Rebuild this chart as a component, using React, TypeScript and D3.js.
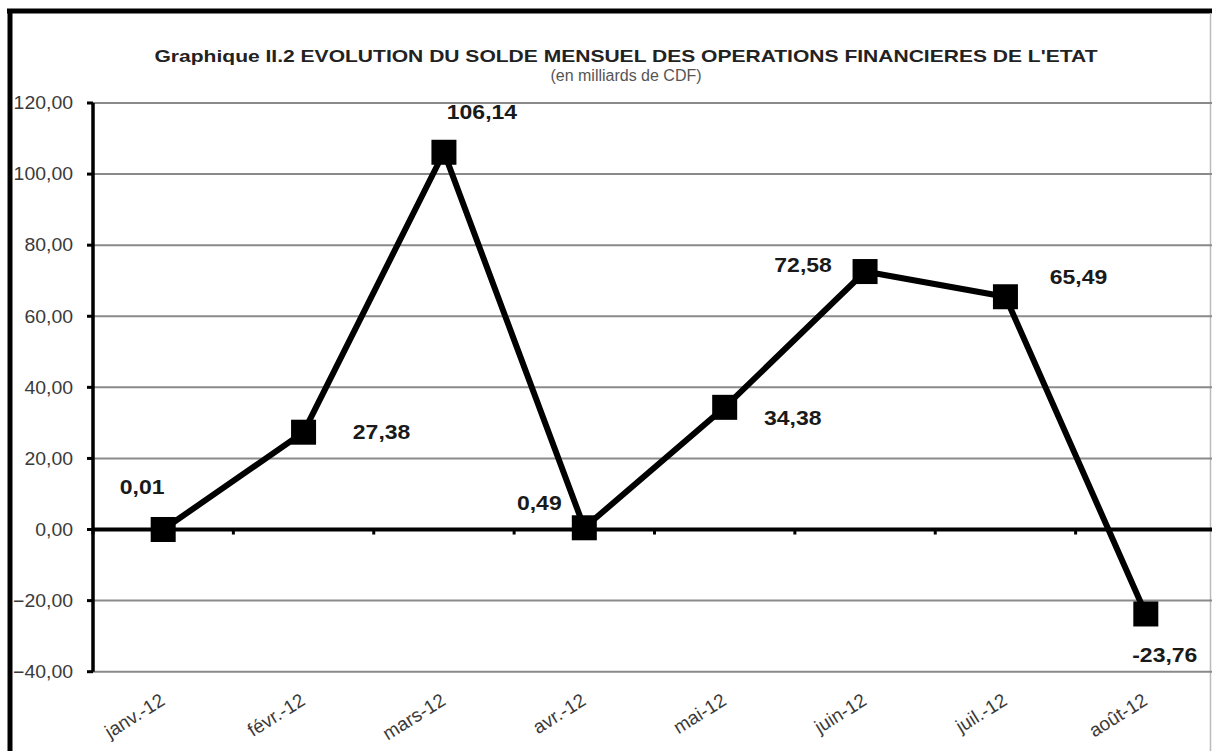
import React from "react";
import * as d3 from "d3";

const categories = ["janv.-12", "févr.-12", "mars-12", "avr.-12", "mai-12", "juin-12", "juil.-12", "août-12"];
const values = [0.01, 27.38, 106.14, 0.49, 34.38, 72.58, 65.49, -23.76];
const valueLabels = ["0,01", "27,38", "106,14", "0,49", "34,38", "72,58", "65,49", "-23,76"];
const yTicks = [-40, -20, 0, 20, 40, 60, 80, 100, 120];
const labelOffsets: [number, number][] = [
  [-21, -42], [78, 0], [38, -40], [-45, -25], [68, 11], [-62, -7], [73, -20], [19, 41],
];

const W = 1212;
const H = 751;
const plotLeft = 93;
const plotRight = 1216;
const plotTop = 103;
const plotBottom = 671.7;
const FONT = "'Liberation Sans', Arial, sans-serif";

export default function App() {
  const x = d3.scaleBand<string>().domain(categories).range([plotLeft, plotRight]).padding(0);
  const y = d3.scaleLinear().domain([-40, 120]).range([plotBottom, plotTop]);
  const cx = (c: string) => (x(c) as number) + x.bandwidth() / 2;
  const pts: [number, number][] = categories.map((c, i) => [cx(c), y(values[i])]);
  const line = d3.line<[number, number]>().x((d) => d[0]).y((d) => d[1])(pts) as string;
  const fmt = (v: number) => d3.format(".2f")(v).replace(".", ",");
  const y0 = y(0);
  const boundaries = d3.range(categories.length + 1).map((k) => plotLeft + k * x.bandwidth());
  const sq = 25;

  return (
    <svg width={W} height={H} style={{ position: "absolute", left: 0, top: 0, background: "#fff" }}>
      <rect x={0} y={0} width={W} height={H} fill="#fff" />
      {/* frame */}
      <line x1={7} y1={11} x2={W} y2={11} stroke="#000" strokeWidth={5} />
      <line x1={10} y1={9} x2={10} y2={H} stroke="#000" strokeWidth={5} />
      <line x1={1210.5} y1={13} x2={1210.5} y2={H} stroke="#bbb" strokeWidth={1.5} />

      {/* title */}
      <text x={626} y={62} textAnchor="middle" fontFamily={FONT} fontWeight="bold" fontSize={17} fill="#222"
        textLength={943} lengthAdjust="spacingAndGlyphs">
        Graphique II.2  EVOLUTION DU SOLDE MENSUEL DES OPERATIONS FINANCIERES DE L'ETAT
      </text>
      <text x={626} y={81} textAnchor="middle" fontFamily={FONT} fontSize={16} fill="#555">
        (en milliards de CDF)
      </text>

      {/* grid */}
      {yTicks.filter((t) => t !== 0).map((t) => (
        <line key={"g" + t} x1={plotLeft} x2={W} y1={y(t)} y2={y(t)} stroke="#8a8a8a" strokeWidth={2} />
      ))}
      {/* y tick marks */}
      {yTicks.map((t) => (
        <line key={"t" + t} x1={87} x2={plotLeft} y1={y(t)} y2={y(t)} stroke="#000" strokeWidth={3} />
      ))}
      {/* y labels */}
      {yTicks.map((t) => (
        <text key={"l" + t} transform={`translate(73,${y(t)}) scale(1.08,1)`} textAnchor="end" dy="0.35em"
          fontFamily={FONT} fontSize={18} fill="#3a3a3a">
          {fmt(t)}
        </text>
      ))}
      {/* zero line */}
      <line x1={plotLeft} x2={W} y1={y0} y2={y0} stroke="#000" strokeWidth={4} />
      {boundaries.map((b, i) => (
        <line key={"b" + i} x1={b} x2={b} y1={y0} y2={y0 + 5} stroke="#000" strokeWidth={3} />
      ))}
      {/* y axis */}
      <line x1={plotLeft} x2={plotLeft} y1={plotTop} y2={plotBottom} stroke="#000" strokeWidth={3.5} />

      {/* x labels */}
      {categories.map((c) => (
        <text key={"x" + c} transform={`translate(${cx(c) + 3},${plotBottom + 32}) rotate(-32)`} textAnchor="end"
          fontFamily={FONT} fontSize={19} fill="#3a3a3a">
          {c}
        </text>
      ))}

      {/* series */}
      <path d={line} fill="none" stroke="#000" strokeWidth={6} strokeLinejoin="miter" />
      {pts.map((p, i) => (
        <rect key={"m" + i} x={p[0] - sq / 2} y={p[1] - sq / 2} width={sq} height={sq} fill="#000" />
      ))}
      {pts.map((p, i) => (
        <text key={"v" + i}
          transform={`translate(${p[0] + labelOffsets[i][0]},${p[1] + labelOffsets[i][1]}) scale(1.15,1)`}
          textAnchor="middle" dy="0.35em" fontFamily={FONT} fontWeight="bold" fontSize={20} fill="#1a1a1a">
          {valueLabels[i]}
        </text>
      ))}
    </svg>
  );
}
